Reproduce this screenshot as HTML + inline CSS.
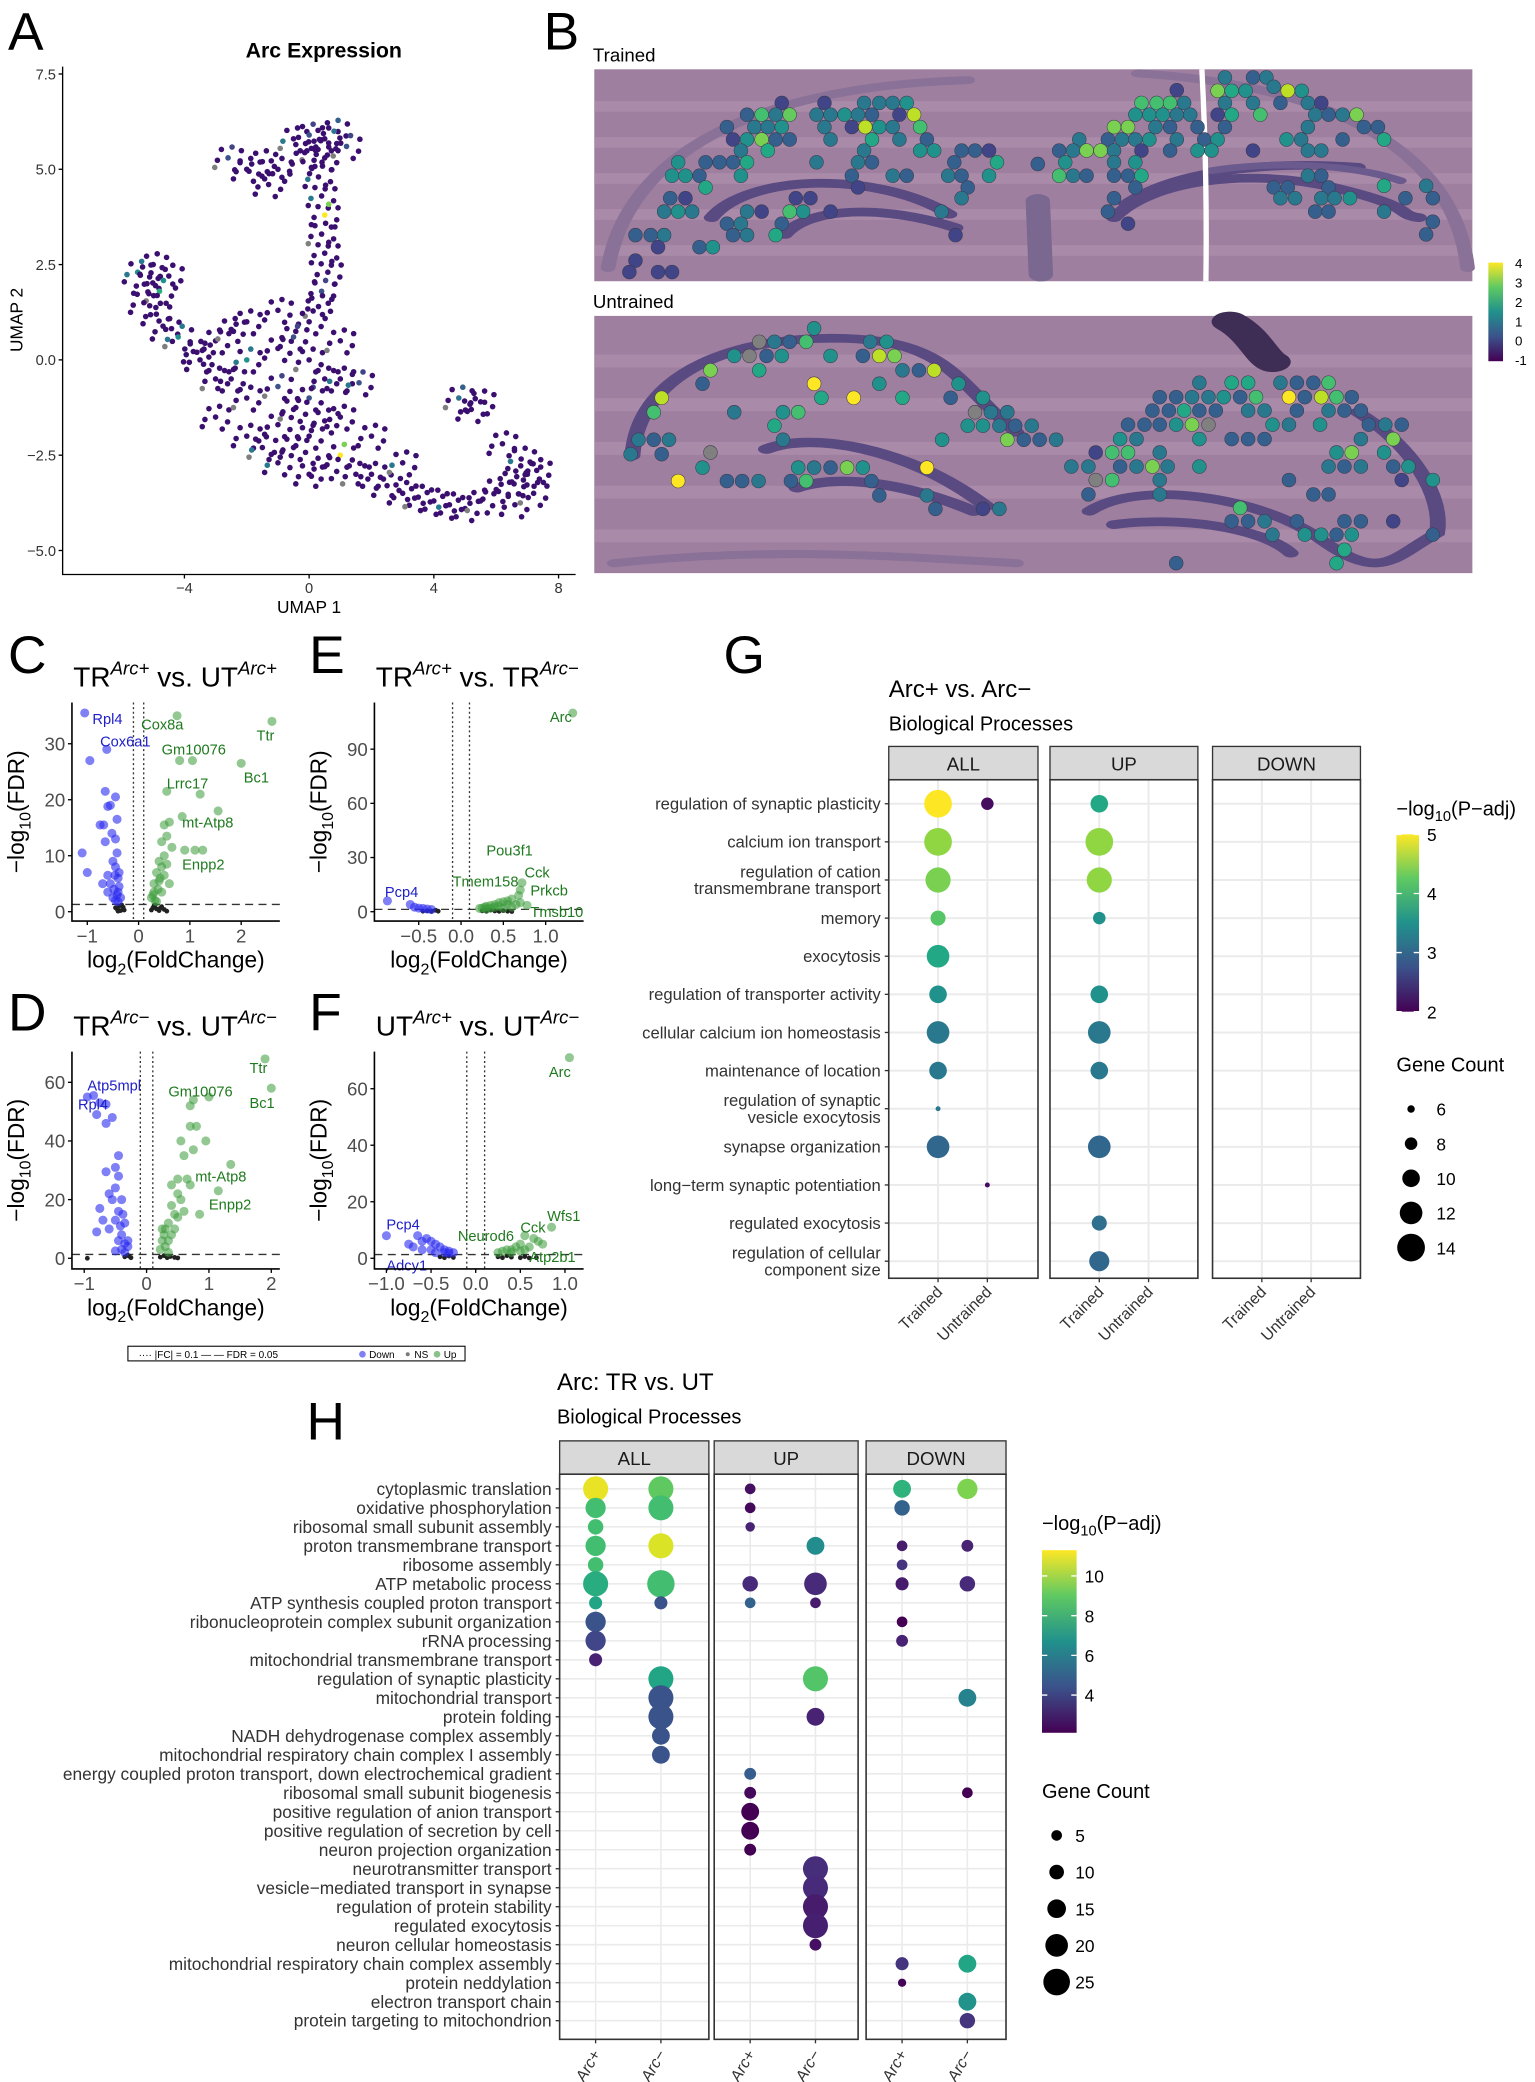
<!DOCTYPE html>
<html><head><meta charset="utf-8"><title>Arc figure</title>
<style>
html,body{margin:0;padding:0;background:#fff;}
svg{display:block;}
text{font-family:"Liberation Sans",Arial,sans-serif;}
.dv{font-family:"DejaVu Sans","Liberation Sans",sans-serif;}
</style></head>
<body>
<svg id="fig" xmlns="http://www.w3.org/2000/svg" width="1535" height="2082" viewBox="0 0 1152 1562" preserveAspectRatio="none">
<defs>
<linearGradient id="gB" x1="0" y1="1" x2="0" y2="0"><stop offset="0" stop-color="#440154"/><stop offset="0.25" stop-color="#3b528b"/><stop offset="0.5" stop-color="#21918c"/><stop offset="0.75" stop-color="#5ec962"/><stop offset="1" stop-color="#fde725"/></linearGradient>
</defs>
<rect x="0" y="0" width="1152" height="1562" fill="#fff"/>
</svg>
<script>
// ---------------- DATA ----------------
const umapPts=[[-0.5,5.8,0],[0,5.9,1],[0.5,5.8,0],[0.8,6.0,1.5],[0.2,5.5,0],[-0.2,5.2,0],[0.5,5.3,0],[0.3,4.8,0],[1.2,5.6,1],[-1.0,5.0,0],[-1.5,5.2,0],[-2,5.0,0],[-2.6,5.3,1],[-1.3,4.6,0],
[0.4,4.3,0],[0.5,3.8,4],[0.4,3.3,0],[0.5,2.8,0],[0.6,2.3,0],[0.4,1.8,1],[0.3,1.4,0],
[-5.5,2.3,2],[-5.2,2.0,0],[-5.0,2.5,0],[-4.8,1.8,2.5],[-5.3,1.5,0],[-4.9,1.2,0],[-4.6,0.8,0],[-4.2,0.6,2],[-3.6,0.2,0],[-4.5,2.2,0],
[-3,0.5,0],[-3,-0.5,0],[-3,-1.5,0],[-2,1,0],[-2,0,2],[-2,-1,0],[-2,-2,0],[-1,1.3,0],[-1,0.3,0],[-1,-0.7,1],[-1,-1.7,0],[-1,-2.7,0],[0,1,0],[0,0,0],[0,-1,1],[0,-2,0],[0,-3,0],[1,0.5,0],[1,-0.5,0],[1,-1.5,0],[1,-2.5,4],[1.5,-3,0],[2,-2,0],[2,-3,0],[-2.5,-0.5,0],[-1.5,-2.3,0],[-0.5,-2.3,0],[0.5,-2.8,0],[-3.5,0,0],[-2.5,0.8,0],[-0.5,0.6,1],[0.5,-0.5,0],[1.6,-0.6,1],[-0.5,-1.3,0],[0.5,-1.6,0],
[2.5,-3.3,0],[3,-3.5,0],[3.5,-3.6,0],[4,-3.7,0],[4.5,-3.8,0],[5,-3.9,0],[5.5,-3.7,0],[6,-3.4,0],[6.5,-3.2,0],[7,-3,0],[7.2,-3.5,0],[6.8,-2.6,0],[7.3,-2.9,0],[6.6,-3.8,0],[4.8,-1,1.5],[5.2,-1.3,0],[5.5,-1.1,0],[6.2,-2.2,0],[3,-2.7,0]];
const trainedSpots=[[315,128,0],[385,128,0],[450,128,1],[475,128,1],[497,128,1],[520,128,1.5],[258,163,0.5],[282,163,2.5],[305,163,1],[328,163,2.8],[372,163,1],[395,163,1],[418,163,1.5],[440,163,1],[463,163,0.5],[508,163,0],[532,163,3.5],[225,200,0.5],[270,200,1],[292,200,1],[315,200,1.5],[385,200,1],[430,200,0],[452,200,3.5],[475,200,1.5],[497,200,1],[542,200,2.5],[235,237,0],[258,237,1.5],[282,237,3],[305,237,0.5],[328,237,0.5],[395,237,1],[463,237,2],[508,237,1],[553,237,0.5],[248,270,1],[292,270,2],[450,270,1],[542,270,1.5],[565,270,1.5],[610,270,0.5],[632,270,0.5],[655,270,0],[145,305,1.5],[190,305,0.5],[213,305,0.5],[235,305,0.5],[258,305,2],[372,305,1],[440,305,1],[463,305,0.5],[598,305,0.5],[668,305,2],[135,345,1.5],[157,345,1.5],[180,345,0.5],[248,345,1.5],[430,345,0.5],[497,345,1],[520,345,0.5],[588,345,1],[610,345,0.5],[655,345,1.5],[190,380,2],[440,380,0],[620,380,0.5],[132,412,0.5],[157,412,0],[338,412,0],[362,412,0],[610,412,1],[122,452,1],[145,452,1.5],[168,452,1],[258,452,1],[282,452,0],[328,452,2.5],[350,452,1.5],[395,452,0],[577,452,1],[225,488,0.5],[248,488,1],[315,488,0.5],[75,522,0.5],[100,522,0.5],[122,522,1],[235,522,0.5],[258,522,1],[305,522,2],[600,522,0],[112,558,0],[180,558,0.5],[202,558,1.5],[75,598,0],[65,632,0],[112,632,0],[135,632,0],
[1042,52,1],[1088,52,0.5],[1110,52,1],[963,90,0],[1030,92,3],[1053,92,2],[1076,92,1.5],[1122,80,1],[1145,92,3.5],[1168,92,1.5],[905,128,2.5],[930,128,2.5],[952,128,2.5],[975,128,1],[1042,128,1],[1088,128,1],[1133,128,0.5],[1178,128,1],[1200,128,0],[895,163,1.5],[918,163,1.5],[940,163,1.5],[963,163,1],[985,163,1],[1030,163,0],[1053,163,2],[1100,163,2.5],[1190,163,1],[1212,163,0.5],[1235,163,1],[1258,163,3],[860,200,3],[883,200,3],[928,200,1],[952,200,0.5],[997,200,0.5],[1042,200,0.5],[1178,200,1],[1270,200,0.5],[1293,200,0.5],[803,237,1],[850,237,0.5],[873,237,1],[895,237,1],[918,237,1.5],[963,237,1],[1008,237,0.5],[1030,237,1.5],[1143,237,1.5],[1167,237,1],[1235,237,0.5],[1303,237,2],[770,270,0.5],[793,270,1],[815,270,3],[838,270,3],[860,270,1],[905,270,0],[952,270,0.5],[997,270,1.5],[1020,270,1.5],[1088,270,0],[1178,270,1],[1200,270,1],[780,305,1.5],[860,305,1],[895,305,1.5],[735,310,0.5],[770,345,2.5],[793,345,1],[815,345,0.5],[860,345,0.5],[883,345,0.5],[905,345,2],[1178,345,1],[1200,345,0.5],[895,380,0.5],[1122,380,0.5],[1145,380,0.5],[1212,380,0.5],[1303,375,2],[1372,375,1],[860,412,0.5],[1133,412,1],[1157,412,1],[1200,412,1],[1222,412,1],[1247,412,1.5],[1338,412,0.5],[1383,412,0.5],[850,452,0.5],[1190,452,0.5],[1212,452,0.5],[1303,452,1],[883,488,0],[1383,482,0.5],[1372,520,0.5]];
const untrainedSpots=[[368,800,1.5],[278,840,-9],[303,840,1],[328,840,0.5],[355,840,2.5],[460,840,1],[487,840,1.5],[237,882,1.5],[262,882,-9],[290,882,0.5],[315,882,1.5],[395,882,1.5],[448,882,0.5],[475,882,3.5],[500,882,3],[198,925,3],[278,925,2],[513,925,1],[540,925,0.5],[565,925,3.5],[185,965,0.5],[368,965,4],[475,965,1.5],[605,965,1.5],[118,1007,3.5],[380,1007,2],[433,1007,4],[513,1007,2],[592,1007,0.5],[645,1007,1.5],[105,1050,2.5],[237,1050,1],[317,1050,1.5],[342,1050,2.5],[632,1050,-9],[658,1050,1],[685,1050,1],[303,1090,2],[620,1090,1.5],[645,1090,1.5],[672,1090,1],[698,1090,0.5],[725,1090,1],[80,1132,1],[105,1132,0.5],[130,1132,1],[317,1132,1],[578,1132,1.5],[685,1132,3],[712,1132,0.5],[738,1132,0.5],[765,1132,1],[67,1175,1],[118,1175,0.5],[198,1170,-9],[185,1215,1.5],[342,1215,1.5],[368,1215,1],[395,1215,0.5],[422,1215,3],[448,1215,1.5],[553,1215,4],[145,1255,4],[225,1255,0.5],[250,1255,0.5],[277,1255,1],[330,1255,0.5],[355,1255,2.5],[462,1255,0.5],[475,1298,0.5],[553,1298,1],[567,1338,0.5],[645,1338,0],[672,1338,1],
[1000,962,1],[1053,962,2],[1080,962,2],[1133,962,1],[1160,962,0.5],[1187,962,0.5],[1212,962,2.5],[935,1005,0.5],[962,1005,0.5],[988,1005,1],[1015,1005,1],[1040,1005,1.5],[1067,1005,0.5],[1093,1005,2.5],[1147,1005,4],[1173,1005,0.5],[1200,1005,3.5],[1225,1005,2.5],[1250,1005,0.5],[923,1045,0.5],[950,1045,0.5],[975,1045,2],[1000,1045,0.5],[1027,1045,0.5],[1080,1045,1],[1107,1045,1],[1160,1045,0.5],[1212,1045,1],[1238,1045,0.5],[1265,1045,0.5],[883,1087,0.5],[910,1087,0.5],[935,1087,0.5],[962,1087,1.5],[988,1087,3],[1015,1087,-9],[1120,1087,1.5],[1147,1087,1],[1198,1087,1.5],[1278,1087,0.5],[1305,1087,1],[1332,1087,0.5],[870,1130,1.5],[897,1130,1],[1000,1130,1.5],[1053,1130,0.5],[1080,1130,0.5],[1107,1130,0.5],[1265,1130,1],[1318,1130,3],[830,1170,0],[857,1170,2.5],[883,1170,2.5],[935,1170,1],[1225,1170,1.5],[1250,1170,3],[1303,1170,1.5],[790,1212,1],[818,1212,1],[870,1212,0.5],[897,1212,1],[923,1212,3],[948,1212,1],[1000,1212,1.5],[1212,1212,1],[1238,1212,0.5],[1265,1212,1],[1318,1212,0.5],[1343,1212,1.5],[830,1252,-9],[857,1252,2.5],[935,1252,1],[1147,1252,0.5],[1332,1252,0],[1383,1252,1.5],[818,1295,0.5],[935,1295,1],[1187,1295,0.5],[1212,1295,0.5],[1067,1335,2.5],[1053,1375,0.5],[1080,1375,0.5],[1107,1375,1],[1160,1375,0.5],[1238,1375,0.5],[1265,1375,0.5],[1318,1375,0],[1120,1415,1],[1173,1415,1.5],[1200,1415,1.5],[1225,1415,0.5],[1250,1415,1.5],[1383,1415,0.5],[1238,1460,2],[1225,1500,2],[962,1500,0.5]];
const bBarTicks=[4,3,2,1,0,-1];
const cDown=[[-1.05,35.5],[-0.62,29],[-0.95,27],[-0.65,21.5],[-0.45,20.5],[-0.55,19],[-0.6,18.8],[-0.42,16.5],[-0.75,15.5],[-0.68,15.5],[-0.52,14],[-0.45,13],[-0.65,12.5],[-1.1,10.5],[-0.42,10.5],[-0.5,9],[-1.0,7],[-0.6,6.5],[-0.45,8],[-0.4,6],[-0.55,5],[-0.48,4],[-0.38,4.5],[-0.42,3],[-0.35,2.5],[-0.5,2.5],[-0.45,2],[-0.4,1.8],[-0.6,3.5],[-0.7,5],[-0.38,7],[-0.46,6.5],[-0.4,3.5]];
const cUp=[[0.75,35],[2.6,34],[0.8,27],[1.05,27],[2.0,26.5],[0.55,21.5],[1.2,21],[1.55,18],[0.85,17],[0.6,16],[0.5,15.5],[0.55,13.5],[0.45,12.5],[0.65,11.5],[1.1,11],[0.9,11],[1.25,11],[0.5,10],[0.4,9],[0.45,8],[0.35,7],[0.5,6.5],[0.3,5],[0.38,4],[0.28,3],[0.32,2],[0.6,5],[0.45,3.5],[0.55,8.5],[0.4,5.5],[0.25,2.5],[0.35,1.8],[0.3,3.5],[0.42,6]];
const cNs=[[-0.42,0.5],[-0.38,1],[-0.35,0.2],[-0.3,0.8],[-0.28,0.3],[-0.4,0.1],[-0.33,1.2],[-0.45,0.7],[0.25,0.3],[0.3,1],[0.35,0.5],[0.4,0.2],[0.45,0.9],[0.5,0.4],[0.28,0.7],[0.55,0.1],[0.32,1.2],[0.42,0.6]];
const cLabels=[["Rpl4",-0.9,34.5,"d"],["Cox6a1",-0.75,30.5,"d"],["Cox8a",0.05,33.5,"u"],["Ttr",2.3,31.5,"u"],["Gm10076",0.45,29],["Bc1",2.05,24,"u"],["Lrrc17",0.55,23,"u"],["mt-Atp8",0.85,16,"u"],["Enpp2",0.85,8.5,"u"]];
const eDown=[[-0.87,6],[-0.6,4],[-0.55,2.5],[-0.5,2],[-0.45,1.8],[-0.4,1.5],[-0.35,1.2]];
const eUp=[[1.32,110],[0.72,16],[0.7,12],[0.68,9],[0.6,7],[0.55,6],[0.5,5.5],[0.45,5],[0.4,4],[0.35,3.5],[0.3,3],[0.28,2.5],[0.25,2],[0.35,2],[0.45,3],[0.55,4],[0.65,4],[0.78,3.5],[0.5,1.8],[0.3,1.5],[0.4,2.5],[0.6,2.5],[0.22,1.8],[0.7,5]];
const eNs=[[-0.4,0.5],[-0.35,0.2],[-0.3,0.8],[-0.27,0.3],[-0.45,0.3],[0.25,0.5],[0.3,0.2],[0.35,0.9],[0.4,0.4],[0.45,0.2],[0.5,0.6],[0.55,0.3],[0.6,0.1],[0.28,1]];
const eLabels=[["Arc",1.05,108,"u"],["Pou3f1",0.3,34,"u"],["Cck",0.75,22,"u"],["Prkcb",0.82,12,"u"],["Tmsb10",0.82,0,"u"],["Tmem158",-0.1,17,"u"],["Pcp4",-0.9,11,"d"]];
const dDown=[[-0.95,55],[-0.85,55.5],[-0.75,53],[-0.65,52.5],[-0.8,49],[-0.55,48],[-0.65,46],[-0.45,35],[-0.5,31],[-0.65,29.5],[-0.45,28],[-0.5,24],[-0.6,22],[-0.4,20],[-0.55,20],[-0.75,17],[-0.45,16],[-0.5,13],[-0.35,12],[-0.7,13],[-0.8,9],[-0.4,8],[-0.45,6],[-0.35,5],[-0.3,4],[-0.4,3],[-0.5,2.5],[-0.35,2],[-0.6,10],[-0.3,6],[-0.42,11],[-0.38,15]];
const dUp=[[1.9,68],[2.0,58],[1.0,55],[0.75,54],[0.7,52],[0.7,45],[0.8,45],[0.95,40],[0.55,40],[0.75,37],[0.6,35],[1.35,32],[0.5,27],[0.65,27],[0.7,25],[0.4,25],[1.15,23],[0.5,22],[0.55,20],[0.85,15],[0.4,18],[0.45,15],[0.35,12],[0.3,10],[0.4,8],[0.25,6],[0.3,4],[0.22,3],[0.35,2],[0.5,14],[0.6,16],[0.28,8],[0.45,10],[0.35,6],[0.25,10]];
const dNs=[[-0.35,0.5],[-0.3,1],[-0.25,0.2],[-0.28,0.7],[-0.95,0],[0.22,0.4],[0.28,0.9],[0.33,0.2],[0.38,0.6],[0.45,0.3],[0.5,0.1]];
const dLabels=[["Atp5mpl",-0.95,59,"d"],["Rpl4",-1.1,52.5,"d"],["Gm10076",0.35,57,"u"],["Ttr",1.65,65,"u"],["Bc1",1.65,53,"u"],["mt-Atp8",0.78,28,"u"],["Enpp2",1.0,18.5,"u"]];
const fDown=[[-1.0,8],[-0.75,5],[-0.7,4],[-0.65,8],[-0.6,6],[-0.55,7],[-0.5,6],[-0.45,5],[-0.4,4],[-0.35,3],[-0.3,2.5],[-0.25,2],[-0.6,3],[-0.5,3],[-0.45,2],[-0.35,2],[-0.3,1.8]];
const fUp=[[1.05,71],[0.85,11],[0.55,8],[0.65,7],[0.7,6],[0.5,5],[0.45,4],[0.4,3],[0.35,3],[0.3,2.5],[0.25,2],[0.55,3],[0.6,4],[0.75,5],[0.4,2],[0.5,2.5]];
const fNs=[[-0.4,0.5],[-0.35,0.2],[-0.3,0.8],[-0.25,0.3],[0.25,0.5],[0.3,0.2],[0.35,0.9],[0.4,0.4],[0.5,0.2],[0.55,0.6],[0.6,0.1],[0.68,0.2]];
const fLabels=[["Arc",0.82,66,"u"],["Wfs1",0.8,15,"u"],["Cck",0.5,11,"u"],["Neurod6",-0.2,8,"u"],["Atp2b1",0.6,0.5,"u"],["Pcp4",-1.0,12,"d"],["Adcy1",-1.0,-2.5,"d"]];
const gRows=[["regulation of synaptic plasticity"],["calcium ion transport"],["regulation of cation","transmembrane transport"],["memory"],["exocytosis"],["regulation of transporter activity"],["cellular calcium ion homeostasis"],["maintenance of location"],["regulation of synaptic","vesicle exocytosis"],["synapse organization"],["long\u2212term synaptic potentiation"],["regulated exocytosis"],["regulation of cellular","component size"]];
const gFacets=["ALL","UP","DOWN"];
const gGroups=["Trained","Untrained"];
const gPoints=[[0,0,0,14,5.0],[0,0,1,8,2.1],[0,1,0,10,3.8],[1,0,0,14,4.5],[1,1,0,14,4.5],[2,0,0,13,4.4],[2,1,0,13,4.5],[3,0,0,9,4.2],[3,1,0,8,3.5],[4,0,0,12,3.8],[5,0,0,10,3.5],[5,1,0,10,3.5],[6,0,0,12,3.2],[6,1,0,12,3.2],[7,0,0,10,3.2],[7,1,0,10,3.2],[8,0,0,5,3.2],[9,0,0,12,3.0],[9,1,0,12,3.0],[10,0,1,5,2.1],[11,1,0,9,3.1],[12,1,0,11,3.0]];
const gColorTicks=[5,4,3,2];
const gSizeTicks=[6,8,10,12,14];
const hRows=["cytoplasmic translation","oxidative phosphorylation","ribosomal small subunit assembly","proton transmembrane transport","ribosome assembly","ATP metabolic process","ATP synthesis coupled proton transport","ribonucleoprotein complex subunit organization","rRNA processing","mitochondrial transmembrane transport","regulation of synaptic plasticity","mitochondrial transport","protein folding","NADH dehydrogenase complex assembly","mitochondrial respiratory chain complex I assembly","energy coupled proton transport, down electrochemical gradient","ribosomal small subunit biogenesis","positive regulation of anion transport","positive regulation of secretion by cell","neuron projection organization","neurotransmitter transport","vesicle\u2212mediated transport in synapse","regulation of protein stability","regulated exocytosis","neuron cellular homeostasis","mitochondrial respiratory chain complex assembly","protein neddylation","electron transport chain","protein targeting to mitochondrion"];
const hFacets=["ALL","UP","DOWN"];
const hGroups=["Arc+","Arc\u2212"];
const hPoints=[[0,0,0,23,11],[0,0,1,23,9],[0,1,0,5,2.5],[0,2,0,14,8],[0,2,1,17,9.5],
[1,0,0,17,8.5],[1,0,1,23,8.5],[1,1,0,5,2.3],[1,2,0,11,5],
[2,0,0,11,8.5],[2,1,0,3.5,3],
[3,0,0,17,8.5],[3,0,1,23,10.8],[3,1,1,14,6.5],[3,2,0,5,2.8],[3,2,1,6.5,3],
[4,0,0,11,8.5],[4,2,0,5,3.5],
[5,0,0,23,7.8],[5,0,1,26,8.5],[5,1,0,11,3.2],[5,1,1,20,3.2],[5,2,0,8,2.8],[5,2,1,11,3.2],
[6,0,0,8,7.5],[6,0,1,8,4.5],[6,1,0,5,5],[6,1,1,5,2.8],
[7,0,0,17,4.5],[7,2,0,5,2.1],
[8,0,0,17,4],[8,2,0,6.5,3],
[9,0,0,8,3],
[10,0,1,23,7.5],[10,1,1,23,8.8],
[11,0,1,23,4.5],[11,2,1,14,6.2],
[12,0,1,23,4.5],[12,1,1,14,3],
[13,0,1,14,4.5],[14,0,1,14,4.5],
[15,1,0,6.5,4.8],
[16,1,0,6.5,2.3],[16,2,1,5,2.1],
[17,1,0,14,2.0],[18,1,0,14,2.0],[19,1,0,6.5,2.1],
[20,1,1,23,3.3],[21,1,1,23,3.2],[22,1,1,23,2.8],[23,1,1,23,2.9],[24,1,1,6.5,2.5],
[25,2,0,8,3.5],[25,2,1,14,7.5],
[26,2,0,2,2.2],
[27,2,1,14,6.8],[28,2,1,11,3.5]];
const hColorTicks=[10,8,6,4];
const hSizeTicks=[5,10,15,20,25];

// ---------------- HELPERS ----------------
const NS='http://www.w3.org/2000/svg';
const svg=document.getElementById('fig');
function mk(tag,attrs,parent){const e=document.createElementNS(NS,tag);for(const k in attrs)e.setAttribute(k,attrs[k]);(parent||svg).appendChild(e);return e;}
function txt(str,attrs,parent){const e=mk('text',attrs,parent);e.textContent=str;return e;}
const VIR=['#440154','#482475','#414487','#355f8d','#2a788e','#21918c','#22a884','#44bf70','#7ad151','#bddf26','#fde725'];
function hx(c){return [parseInt(c.substr(1,2),16),parseInt(c.substr(3,2),16),parseInt(c.substr(5,2),16)];}
function vir(t){t=Math.max(0,Math.min(1,t));const s=t*10,i=Math.min(9,Math.floor(s)),f=s-i;const a=hx(VIR[i]),b=hx(VIR[i+1]);return 'rgb('+a.map((v,k)=>Math.round(v+(b[k]-v)*f)).join(',')+')';}

[["A",6,37],["B",408,37],["C",6,505],["E",232,505],["D",6,773],["F",232,773],["G",543,505],["H",230,1080]].forEach(function(L){
  const t=txt(L[0],{x:L[1],y:L[2],'font-size':40});
  
  
});

// ---------------- PANEL A ----------------
(function(){
  const g=mk('g',{});
  
  
  const xs=v=>232+v*23.4, ys=v=>270-v*28.6;
  const t=txt('Arc Expression',{x:243,y:43,'font-size':16,'font-weight':'bold','text-anchor':'middle'},g);
  
  
  const offs=[[0,0],[9,4],[-8,2],[3,-9],[-5,-7],[10,-6],[-10,8],[5,10]];
  umapPts.forEach(function(p,i){
    offs.forEach(function(o,j){
      const col=j===0&&p[2]>0?vir(p[2]/4):(j%5===3&&p[2]>0?vir(p[2]/5):(j===6&&i%4===0?'#7f7f7f':(j===2&&i%7===0?'#2a788e':'#3b0f70')));
      const c=mk('circle',{cx:xs(p[0])+o[0],cy:ys(p[1])+o[1]*0.9,r:2.1,fill:col},g);
      
      
    });
  });
  const ax=mk('path',{d:'M47,50 V431 H432',fill:'none',stroke:'#000','stroke-width':1},g);
  
  
  [[7.5,'7.5'],[5,'5.0'],[2.5,'2.5'],[0,'0.0'],[-2.5,'\u22122.5'],[-5,'\u22125.0']].forEach(function(tk){
    const l=mk('line',{x1:44,x2:47,y1:ys(tk[0]),y2:ys(tk[0]),stroke:'#000'},g);
    
    
    const tt=txt(tk[1],{x:42,y:ys(tk[0])+4,'font-size':11,'text-anchor':'end',fill:'#333'},g);
    
    
  });
  [[-4,'\u22124'],[0,'0'],[4,'4'],[8,'8']].forEach(function(tk){
    const l=mk('line',{x1:xs(tk[0]),x2:xs(tk[0]),y1:431,y2:434,stroke:'#000'},g);
    
    
    const tt=txt(tk[1],{x:xs(tk[0]),y:445,'font-size':11,'text-anchor':'middle',fill:'#333'},g);
    
    
  });
  const xl=txt('UMAP 1',{x:232,y:460,'font-size':13,'text-anchor':'middle'},g);
  
  
  const yl=txt('UMAP 2',{x:0,y:0,'font-size':13,'text-anchor':'middle',transform:'translate(17,240) rotate(-90)'},g);
  
  
})();

// ---------------- PANEL B ----------------
(function(){
  const g=mk('g',{});
  
  
  const X=zx=>442.6+zx*0.4575, Y=zy=>45.0+zy*0.2517;
  function tissue(y0,h,name,curves,label){
    const r=mk('rect',{x:446,y:y0,width:659,height:h,fill:'#9f7f9f'},g);
    
    
    for(let k=0;k<5;k++){
      const band=mk('rect',{x:446,y:y0+h*(0.15+k*0.17),width:659,height:h*0.05,fill:'#b798b5',opacity:0.45},g);
      
      
    }
    curves.forEach(function(c){
      const p=mk('path',{d:c[0],fill:'none',stroke:c[1],'stroke-width':c[2],'stroke-linecap':'round',transform:'translate(442.6,45) scale(0.4575,0.2517)'},g);
      
      
    });
    const t=txt(label,{x:445,y:y0-6,'font-size':14},g);
    
    
  }
  tissue(52,159,'trained-section',[
    ['M30,620 C60,300 250,80 620,60','#8a7198',24],
    ['M1440,620 C1420,300 1250,80 900,40','#8a7198',24],
    ['M200,470 C260,340 470,330 590,460','#5a4a82',26],
    ['M320,520 C360,440 480,430 600,500','#5a4a82',26],
    ['M860,470 C920,360 1080,320 1220,380 S1320,460 1360,470','#5a4a82',26],
    ['M880,430 C960,330 1110,300 1260,320','#5a4a82',26],
    ['M1020,330 C1120,300 1250,310 1330,360','#6b5a8d',20],
    ['M735,420 L740,640','#7a6890',40]
  ],'Trained');
  tissue(237,193,'untrained-section',[
    ['M70,1180 C80,920 250,820 420,830 S600,960 700,1110','#5a4a82',26],
    ['M290,1160 C360,1110 520,1150 650,1330','#5a4a82',28],
    ['M340,1275 C420,1230 530,1270 630,1345','#5a4a82',28],
    ['M820,1345 C900,1250 1100,1300 1200,1430 S1320,1480 1390,1410 C1400,1300 1350,1150 1260,1050','#5a4a82',26],
    ['M860,1385 C960,1360 1100,1390 1150,1470','#5a4a82',26],
    ['M1050,780 C1090,820 1100,880 1120,900','#3e2d55',60],
    ['M40,1500 C300,1450 500,1480 700,1500','#8a7198',24]
  ],'Untrained');
  const wl=mk('path',{d:'M902,52 C904,90 906,140 905,211',stroke:'#fff','stroke-width':4,fill:'none'},g);
  
  
  [[trainedSpots,'trained-spot'],[untrainedSpots,'untrained-spot']].forEach(function(set){
    set[0].forEach(function(s){
      const c=mk('circle',{cx:X(s[0]),cy:Y(s[1]),r:5.2,fill:s[2]===-9?'#808080':vir((s[2]+1)/5),stroke:'#3a3a4a','stroke-width':0.4},g);
      
      
    });
  });
  const bar=mk('rect',{x:1117,y:197,width:11,height:74,fill:'url(#gB)'},g);
  
  
  bBarTicks.forEach(function(v){
    const y=270-(v+1)*14.6;
    const tt=txt(String(v),{x:1137,y:y+4,'font-size':10},g);
    
    
  });
})();

// ---------------- VOLCANOS ----------------
function volcano(cfg,down,up,ns,labels){
  const g=mk('g',{class:'dv'});
  
  
  const X=v=>cfg.x0+v*cfg.xs, Y=v=>cfg.y0-v*cfg.ys;
  [-0.1,0.1].forEach(function(v){
    const l=mk('line',{x1:X(v),x2:X(v),y1:cfg.top,y2:cfg.bottom,stroke:'#333','stroke-dasharray':'1.5,2','stroke-width':1},g);
    
    
  });
  const h=mk('line',{x1:cfg.left,x2:cfg.right,y1:Y(1.3),y2:Y(1.3),stroke:'#333','stroke-dasharray':'6,4','stroke-width':1},g);
  
  
  ns.forEach(function(p){
    const c=mk('circle',{cx:X(p[0]),cy:Y(p[1]),r:1.8,fill:'#222'},g);
    
    
  });
  down.forEach(function(p){
    const c=mk('circle',{cx:X(p[0]),cy:Y(p[1]),r:3.4,fill:'#2b2bf0','fill-opacity':0.6},g);
    
    
  });
  up.forEach(function(p){
    const c=mk('circle',{cx:X(p[0]),cy:Y(p[1]),r:3.4,fill:'#3a9a3a','fill-opacity':0.55},g);
    
    
  });
  labels.forEach(function(L){
    const t=txt(L[0],{x:X(L[1]),y:Y(L[2])+4,'font-size':11,fill:L[3]==='d'?'#2020c8':'#1e7a1e'},g);
    
    
  });
  const ax=mk('path',{d:'M'+cfg.left+','+cfg.top+' V'+cfg.bottom+' H'+cfg.right,fill:'none',stroke:'#000','stroke-width':1.2},g);
  
  
  cfg.xt.forEach(function(tk){
    const l=mk('line',{x1:X(tk[0]),x2:X(tk[0]),y1:cfg.bottom,y2:cfg.bottom+3,stroke:'#000'},g);
    
    
    const tt=txt(tk[1],{x:X(tk[0]),y:cfg.bottom+16,'font-size':14,'text-anchor':'middle',fill:'#4d4d4d'},g);
    
    
  });
  cfg.yt.forEach(function(v){
    const l=mk('line',{x1:cfg.left-3,x2:cfg.left,y1:Y(v),y2:Y(v),stroke:'#000'},g);
    
    
    const tt=txt(String(v),{x:cfg.left-5,y:Y(v)+5,'font-size':14,'text-anchor':'end',fill:'#4d4d4d'},g);
    
    
  });
  const xt=txt('',{x:(cfg.left+cfg.right)/2,y:cfg.bottom+35,'font-size':17,'text-anchor':'middle'},g);
  xt.innerHTML='log<tspan font-size="12" dy="5">2</tspan><tspan dy="-5">(FoldChange)</tspan>';
  
  
  const yt=txt('',{x:0,y:0,'font-size':17,'text-anchor':'middle',transform:'translate('+(cfg.left-36)+','+((cfg.top+cfg.bottom)/2)+') rotate(-90)'},g);
  yt.innerHTML='\u2212log<tspan font-size="12" dy="5">10</tspan><tspan dy="-5">(FDR)</tspan>';
  
  
  const ti=txt('',{x:cfg.left+1,y:cfg.top-12,'font-size':21},g);
  ti.innerHTML=cfg.a+'<tspan font-size="14" font-style="italic" dy="-9">'+cfg.as+'</tspan><tspan dy="9"> vs. '+cfg.b+'</tspan><tspan font-size="14" font-style="italic" dy="-9">'+cfg.bs+'</tspan>';
  
  
}
volcano({id:'c',left:54,right:210,top:527,bottom:691,x0:104,xs:38.5,y0:684,ys:4.2,xt:[[-1,'\u22121'],[0,'0'],[1,'1'],[2,'2']],yt:[0,10,20,30],a:'TR',as:'Arc+',b:'UT',bs:'Arc+'},cDown,cUp,cNs,cLabels);
volcano({id:'e',left:281,right:438,top:527,bottom:691,x0:346,xs:63.5,y0:684,ys:1.355,xt:[[-0.5,'\u22120.5'],[0,'0.0'],[0.5,'0.5'],[1,'1.0']],yt:[0,30,60,90],a:'TR',as:'Arc+',b:'TR',bs:'Arc\u2212'},eDown,eUp,eNs,eLabels);
volcano({id:'d',left:54,right:210,top:789,bottom:952,x0:110,xs:46.8,y0:944,ys:2.2,xt:[[-1,'\u22121'],[0,'0'],[1,'1'],[2,'2']],yt:[0,20,40,60],a:'TR',as:'Arc\u2212',b:'UT',bs:'Arc\u2212'},dDown,dUp,dNs,dLabels);
volcano({id:'f',left:281,right:438,top:789,bottom:952,x0:357,xs:67,y0:944,ys:2.12,xt:[[-1,'\u22121.0'],[-0.5,'\u22120.5'],[0,'0.0'],[0.5,'0.5'],[1,'1.0']],yt:[0,20,40,60],a:'UT',as:'Arc+',b:'UT',bs:'Arc\u2212'},fDown,fUp,fNs,fLabels);
(function(){
  const g=mk('g',{});
  
  
  const r=mk('rect',{x:96,y:1010,width:253,height:11,fill:'#fff',stroke:'#000','stroke-width':0.8},g);
  
  
  const t=txt('\u00b7\u00b7\u00b7\u00b7 |FC| = 0.1   \u2014 \u2014 FDR = 0.05',{x:104,y:1019,'font-size':7.5},g);
  
  
  [[272,'#2b2bf0',2.5,'Down'],[306,'#222',1.5,'NS'],[328,'#3a9a3a',2.5,'Up']].forEach(function(e){
    const c=mk('circle',{cx:e[0],cy:1016,r:e[2],fill:e[1],'fill-opacity':0.6},g);
    
    
    const tt=txt(e[3],{x:e[0]+5,y:1019,'font-size':7.5},g);
    
    
  });
})();

// ---------------- DOT PLOTS ----------------
function dotplot(cfg,rows,facets,groups,points,colorTicks,sizeTicks){
  const g=mk('g',{});
  
  
  const rowY=i=>cfg.row0+i*cfg.rowStep;
  const colX=(f,k)=>cfg.panels[f][0]+cfg.colOff[k];
  const cS=v=>vir((v-cfg.cmin)/(cfg.cmax-cfg.cmin));
  const rS=c=>Math.max(1.8,cfg.r0+(c-cfg.c0)*cfg.rk);
  facets.forEach(function(f,fi){
    const p=cfg.panels[fi];
    const bg=mk('rect',{x:p[0],y:cfg.top,width:p[1]-p[0],height:cfg.bottom-cfg.top,fill:'#fff'},g);
    
    
    rows.forEach(function(r,i){
      const l=mk('line',{x1:p[0],x2:p[1],y1:rowY(i),y2:rowY(i),stroke:'#ebebeb','stroke-width':cfg.gw},g);
      
      
    });
    groups.forEach(function(gr,k){
      const l=mk('line',{x1:colX(fi,k),x2:colX(fi,k),y1:cfg.top,y2:cfg.bottom,stroke:'#ebebeb','stroke-width':cfg.gw},g);
      
      
      const tk=mk('line',{x1:colX(fi,k),x2:colX(fi,k),y1:cfg.bottom,y2:cfg.bottom+3,stroke:'#333'},g);
      
      
      const tl=txt(gr,{x:0,y:0,'font-size':cfg.xfs,'text-anchor':'end',fill:'#333','font-style':cfg.xit,transform:'translate('+(colX(fi,k)+4)+','+(cfg.bottom+11)+') rotate('+cfg.rot+')'},g);
      
      
    });
    const st=mk('rect',{x:p[0],y:cfg.stripTop,width:p[1]-p[0],height:cfg.top-cfg.stripTop,fill:'#d9d9d9',stroke:'#333','stroke-width':1},g);
    
    
    const stt=txt(f,{x:(p[0]+p[1])/2,y:cfg.top-7,'font-size':14,'text-anchor':'middle',fill:'#1a1a1a'},g);
    
    
  });
  points.forEach(function(pt){
    const c=mk('circle',{cx:colX(pt[1],pt[2]),cy:rowY(pt[0]),r:rS(pt[3]),fill:cS(pt[4])},g);
    
    
  });
  facets.forEach(function(f,fi){
    const p=cfg.panels[fi];
    const b=mk('rect',{x:p[0],y:cfg.top,width:p[1]-p[0],height:cfg.bottom-cfg.top,fill:'none',stroke:'#333','stroke-width':1.2},g);
    
    
  });
  rows.forEach(function(r,i){
    const lines=Array.isArray(r)?r:[r];
    const tk=mk('line',{x1:cfg.panels[0][0]-3,x2:cfg.panels[0][0],y1:rowY(i),y2:rowY(i),stroke:'#333'},g);
    
    
    lines.forEach(function(s,j){
      const yy=rowY(i)+cfg.yfs*0.35+(j-(lines.length-1)/2)*cfg.yfs*1.0;
      const t=txt(s,{x:cfg.panels[0][0]-6,y:yy,'font-size':cfg.yfs,'text-anchor':'end',fill:'#333'},g);
      
      
    });
  });
  const t1=txt(cfg.title,{x:cfg.tx,y:cfg.ty,'font-size':18},g);
  
  
  const t2=txt('Biological Processes',{x:cfg.tx,y:cfg.ty+25,'font-size':15},g);
  
  
  const L=cfg.leg;
  const lt=txt('',{x:L.x,y:L.ty,'font-size':15},g);
  lt.innerHTML='\u2212log<tspan font-size="11" dy="4">10</tspan><tspan dy="-4">(P\u2212adj)</tspan>';
  
  
  const bar=mk('rect',{x:L.x,y:L.bt,width:L.bw,height:L.bb-L.bt,fill:'url(#gB)'},g);
  
  
  const bY=v=>L.bb-(v-cfg.cmin)/(cfg.cmax-cfg.cmin)*(L.bb-L.bt);
  colorTicks.forEach(function(v){
    const l=mk('line',{x1:L.x,x2:L.x+L.bw,y1:bY(v),y2:bY(v),stroke:'#fff','stroke-width':1,'stroke-dasharray':'4,'+(L.bw-8)},g);
    
    
    const tt=txt(String(v),{x:L.x+L.bw+6,y:bY(v)+5,'font-size':13},g);
    
    
  });
  const st=txt('Gene Count',{x:L.x,y:L.sy,'font-size':15},g);
  
  
  sizeTicks.forEach(function(v,i){
    const yy=L.sy+28+i*L.ss;
    const c=mk('circle',{cx:L.x+11,cy:yy,r:rS(v),fill:'#000'},g);
    
    
    const tt=txt(String(v),{x:L.x+L.sx,y:yy+5,'font-size':13},g);
    
    
  });
}
dotplot({id:'g',panels:[[667,779],[788,899],[910,1021]],colOff:[37,74],top:585,bottom:959,stripTop:560,row0:603,rowStep:28.6,
  cmin:2,cmax:5,c0:6,r0:2.8,rk:0.95,gw:1.5,xfs:12,yfs:12.5,rot:-45,xit:'normal',title:'Arc+ vs. Arc\u2212',tx:667,ty:523,
  leg:{x:1048,ty:612,bt:626,bb:759,bw:17,sy:804,ss:26,sx:30}},gRows,gFacets,gGroups,gPoints,gColorTicks,gSizeTicks);
dotplot({id:'h',panels:[[420,532],[536,644],[650,755]],colOff:[27,76],top:1106,bottom:1530,stripTop:1081,row0:1117,rowStep:14.25,
  cmin:2.1,cmax:11.3,c0:5,r0:4,rk:0.3,gw:1.2,xfs:12,yfs:13,rot:-60,xit:'italic',title:'Arc: TR vs. UT',tx:418,ty:1043,
  leg:{x:782,ty:1148,bt:1163,bb:1300,bw:26,sy:1349,ss:27.5,sx:25}},hRows,hFacets,hGroups,hPoints,hColorTicks,hSizeTicks);
</script>
</body></html>
